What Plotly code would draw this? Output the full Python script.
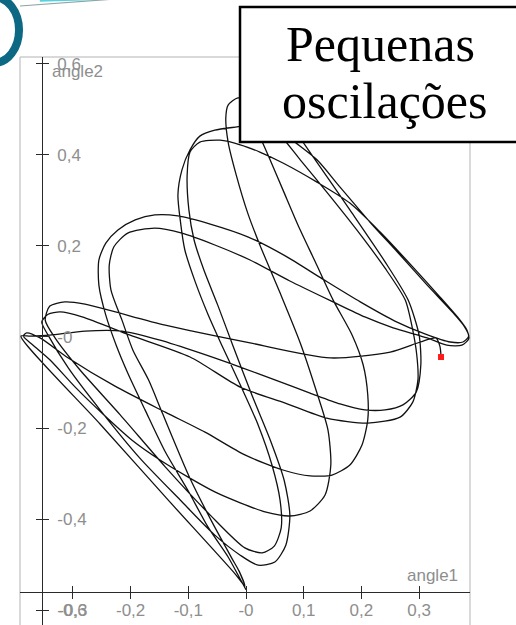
import plotly.graph_objects as go

# Double pendulum, small oscillations: phase trace angle1 (x) vs angle2 (y), radians
angle1 = [
    0.000, -0.014, -0.031, -0.066, -0.101, -0.140, -0.175, -0.205, -0.225, -0.243, -0.255, -0.255, -0.243, -0.222, -0.192, -0.158, -0.118,
    -0.062, 0.003, 0.068, 0.133, 0.198, 0.258, 0.310, 0.354, 0.376, 0.386,
    0.378, 0.359, 0.314, 0.262, 0.215, 0.163, 0.123, 0.081, 0.042, 0.010, -0.014, -0.031, -0.035, -0.031,
    -0.017, 0.003, 0.024, 0.059, 0.094, 0.123, 0.142, 0.147, 0.137, 0.111, 0.076, 0.033, -0.010,
    -0.054, -0.101, -0.149, -0.198, -0.248, -0.296, -0.340, -0.369, -0.386, -0.380, -0.357,
    -0.308, -0.227, -0.140, -0.071, -0.002, 0.064, 0.111, 0.149, 0.180, 0.201, 0.211, 0.211, 0.203, 0.184,
    0.151, 0.120, 0.090, 0.064, 0.038, 0.016, 0.003, 0.007, 0.024,
    0.068, 0.120, 0.180, 0.241, 0.281, 0.300, 0.303, 0.295, 0.272, 0.241, 0.206, 0.163, 0.111,
    0.050, -0.010, -0.080, -0.149, -0.215, -0.279, -0.340, -0.374, -0.390,
    -0.253, -0.132, -0.019, -0.002,
    -0.012, -0.024, -0.059, -0.099, -0.145, -0.169, -0.196, -0.215, -0.234, -0.237, -0.229, -0.205, -0.158, -0.111,
    -0.054, 0.007, 0.076, 0.151, 0.206, 0.255, 0.314, 0.348, 0.374, 0.386, 0.383, 0.371,
    0.336, 0.289, 0.232, 0.180, 0.123, 0.064, 0.024, -0.010, -0.045, -0.080, -0.097, -0.102,
    -0.099, -0.090, -0.073, -0.049, -0.023, 0.010, 0.042, 0.066, 0.076, 0.069, 0.050, 0.021, -0.010,
    -0.054, -0.114, -0.184, -0.253, -0.308, -0.343, -0.354, -0.343, -0.322, -0.284,
    -0.201, -0.097, -0.010, 0.068, 0.140, 0.211, 0.267, 0.289, 0.298, 0.296, 0.289,
    0.276, 0.241, 0.192, 0.140, 0.094, 0.059, 0.028, -0.007, -0.054, -0.080, -0.097, -0.111, -0.118,
    -0.114, -0.106, -0.088, -0.066, -0.042, -0.010, 0.021, 0.045, 0.059, 0.061, 0.049, 0.028, -0.002,
    -0.062, -0.140, -0.218, -0.288, -0.331, -0.348, -0.340, -0.314, -0.279,
    -0.140, 0.007, 0.146, 0.250, 0.302, 0.329, 0.336, 0.338,
]
angle2 = [
    -0.555, -0.522, -0.483, -0.417, -0.336, -0.252, -0.160, -0.079, -0.018, 0.048, 0.114, 0.169, 0.206, 0.235, 0.257, 0.268, 0.266,
    0.248, 0.220, 0.178, 0.127, 0.077, 0.035, 0.007, -0.011, -0.011, 0.002,
    0.024, 0.053, 0.114, 0.187, 0.252, 0.329, 0.389, 0.432, 0.481, 0.516, 0.525, 0.509, 0.481, 0.428,
    0.356, 0.272, 0.202, 0.097, -0.013, -0.123, -0.204, -0.281, -0.347, -0.382, -0.393, -0.384, -0.364,
    -0.340, -0.307, -0.270, -0.226, -0.169, -0.110, -0.050, -0.018, 0.002, 0.009, -0.002,
    -0.046, -0.108, -0.165, -0.209, -0.259, -0.292, -0.305, -0.303, -0.281, -0.237, -0.182, -0.127, -0.061, 0.004,
    0.081, 0.165, 0.246, 0.323, 0.400, 0.465, 0.520, 0.547, 0.538,
    0.481, 0.389, 0.279, 0.165, 0.081, 0.004, -0.061, -0.121, -0.149, -0.160, -0.160, -0.147, -0.123,
    -0.094, -0.066, -0.035, -0.007, 0.013, 0.013, 0.004, 0.002, 0.002,
    -0.191, -0.362, -0.520, -0.547,
    -0.514, -0.487, -0.406, -0.305, -0.167, -0.094, -0.029, 0.037, 0.103, 0.158, 0.198, 0.228, 0.239, 0.228,
    0.202, 0.169, 0.123, 0.077, 0.044, 0.020, -0.002, -0.018, -0.018, -0.004, 0.015, 0.037,
    0.088, 0.154, 0.231, 0.294, 0.340, 0.382, 0.406, 0.422, 0.432, 0.428, 0.406, 0.356,
    0.279, 0.213, 0.147, 0.070, -0.018, -0.127, -0.226, -0.314, -0.391, -0.457, -0.494, -0.501, -0.479,
    -0.435, -0.358, -0.266, -0.160, -0.068, 0.004, 0.033, 0.050, 0.055, 0.044,
    0.004, -0.044, -0.110, -0.145, -0.178, -0.189, -0.176, -0.143, -0.094, -0.040, 0.015,
    0.081, 0.151, 0.235, 0.318, 0.389, 0.443, 0.472, 0.463, 0.454, 0.441, 0.411, 0.367, 0.312,
    0.257, 0.191, 0.121, 0.050, -0.018, -0.105, -0.193, -0.281, -0.358, -0.419, -0.459, -0.474, -0.463,
    -0.391, -0.285, -0.171, -0.072, -0.002, 0.037, 0.068, 0.077, 0.072,
    0.026, -0.013, -0.046, -0.033, -0.011, -0.002, -0.020, -0.042,
]

# Current state
bob_angle1 = [0.338]
bob_angle2 = [-0.044]

x_ticks = [-0.3, -0.2, -0.1, 0.0, 0.1, 0.2, 0.3]
x_tick_labels = ["-0,3", "-0,2", "-0,1", "-0", "0,1", "0,2", "0,3"]
y_ticks = [-0.6, -0.4, -0.2, 0.0, 0.2, 0.4, 0.6]
y_tick_labels = ["-0,6", "-0,4", "-0,2", "-0", "0,2", "0,4", "0,6"]

X_RANGE = [-0.3917, 0.3882]
Y_RANGE = [-0.6323, 0.6147]
X_AXIS_AT = -0.559   # angle2 where the horizontal axis crosses
Y_AXIS_AT = -0.354   # angle1 where the vertical axis crosses

x_axis_pos = (X_AXIS_AT - Y_RANGE[0]) / (Y_RANGE[1] - Y_RANGE[0])
y_axis_pos = (Y_AXIS_AT - X_RANGE[0]) / (X_RANGE[1] - X_RANGE[0])

axis_color = "#2a2a2a"
label_color = "#8e8e8e"
tick_font = dict(family="Liberation Sans, Arial, sans-serif", size=17, color=label_color)
curve = dict(color="#111111", width=1.3)

fig = go.Figure()
fig.add_trace(go.Scatter(x=angle1, y=angle2, mode="lines",
                         line=dict(curve, shape="spline", smoothing=0.7),
                         hoverinfo="skip", showlegend=False))
fig.add_trace(go.Scatter(x=bob_angle1, y=bob_angle2, mode="markers",
                         marker=dict(symbol="square", size=6, color="#ff1a1a"),
                         hoverinfo="skip", showlegend=False))
# companion axes carrying the inner half of each tick mark
fig.add_trace(go.Scatter(x=[], y=[], xaxis="x2", yaxis="y2", showlegend=False))

common = dict(showgrid=False, zeroline=False, anchor="free", fixedrange=True)
fig.update_layout(
    width=516, height=625,
    margin=dict(l=20, r=46, t=57, b=0),
    paper_bgcolor="white", plot_bgcolor="white",
    showlegend=False,
    xaxis=dict(common, range=X_RANGE, position=x_axis_pos,
               showline=True, linecolor=axis_color, linewidth=1,
               ticks="outside", ticklen=6, tickwidth=1, tickcolor=axis_color,
               tickvals=x_ticks, ticktext=x_tick_labels, tickfont=tick_font,
               ticklabeloverflow="allow", ticklabelstandoff=-3),
    xaxis2=dict(common, range=X_RANGE, position=x_axis_pos, overlaying="x",
                showline=False, ticks="inside", ticklen=6, tickwidth=1, tickcolor=axis_color,
                tickvals=x_ticks, showticklabels=False),
    yaxis=dict(common, range=Y_RANGE, position=y_axis_pos,
               showline=True, linecolor=axis_color, linewidth=1,
               ticks="outside", ticklen=6, tickwidth=1, tickcolor=axis_color,
               tickvals=y_ticks, ticktext=y_tick_labels, tickfont=tick_font,
               ticklabelposition="inside", ticklabelstandoff=15, ticklabeloverflow="allow"),
    yaxis2=dict(common, range=Y_RANGE, position=y_axis_pos, overlaying="y",
                showline=False, ticks="inside", ticklen=6, tickwidth=1, tickcolor=axis_color,
                tickvals=y_ticks, showticklabels=False),
)

frame = "#cdcdcd"
shapes = [
    # light panel border
    dict(type="line", xref="paper", yref="paper", x0=0, x1=0, y0=-0.1, y1=1, line=dict(color=frame, width=1.5), layer="below"),
    dict(type="line", xref="paper", yref="paper", x0=0, x1=1, y0=1, y1=1, line=dict(color=frame, width=1.5), layer="below"),
    dict(type="line", xref="paper", yref="paper", x0=1, x1=1, y0=-0.1, y1=1, line=dict(color=frame, width=1.5), layer="below"),
    # title box
    dict(type="rect", xref="paper", yref="paper", x0=0.4889, x1=1.2, y0=0.8504, y1=1.088,
         fillcolor="white", line=dict(color="black", width=2.5), layer="above"),
    # slide decoration, top left
    dict(type="circle", xref="paper", yref="paper", x0=-0.1133, x1=-0.0022, y0=0.9894, y1=1.1056,
         line=dict(color="#0c6883", width=8), layer="above"),
    dict(type="line", xref="paper", yref="paper", x0=0.0, x1=0.211, y0=1.0898, y1=1.1021,
         line=dict(color="#8fa3a6", width=1.2), layer="above"),
    dict(type="line", xref="paper", yref="paper", x0=0.044, x1=0.222, y0=1.1, y1=1.104,
         line=dict(color="#55d2de", width=3), layer="above"),
]
fig.update_layout(shapes=shapes)

serif = dict(family="Liberation Serif, Times New Roman, serif", size=50, color="black")
label_font = dict(family="Liberation Sans, Arial, sans-serif", size=17, color=label_color)
fig.update_layout(annotations=[
    dict(text="Pequenas", xref="paper", yref="paper", x=0.801, y=1.0229,
         xanchor="center", yanchor="middle", showarrow=False, font=serif),
    dict(text="oscilações", xref="paper", yref="paper", x=0.811, y=0.9225,
         xanchor="center", yanchor="middle", showarrow=False, font=serif),
    dict(text="angle1", xref="paper", yref="paper", x=0.978, y=0.088,
         xanchor="right", yanchor="middle", showarrow=False, font=label_font),
    dict(text="angle2", xref="paper", yref="paper", x=0.0667, y=0.975,
         xanchor="left", yanchor="middle", showarrow=False, font=label_font),
])

fig.write_html("out.html")
